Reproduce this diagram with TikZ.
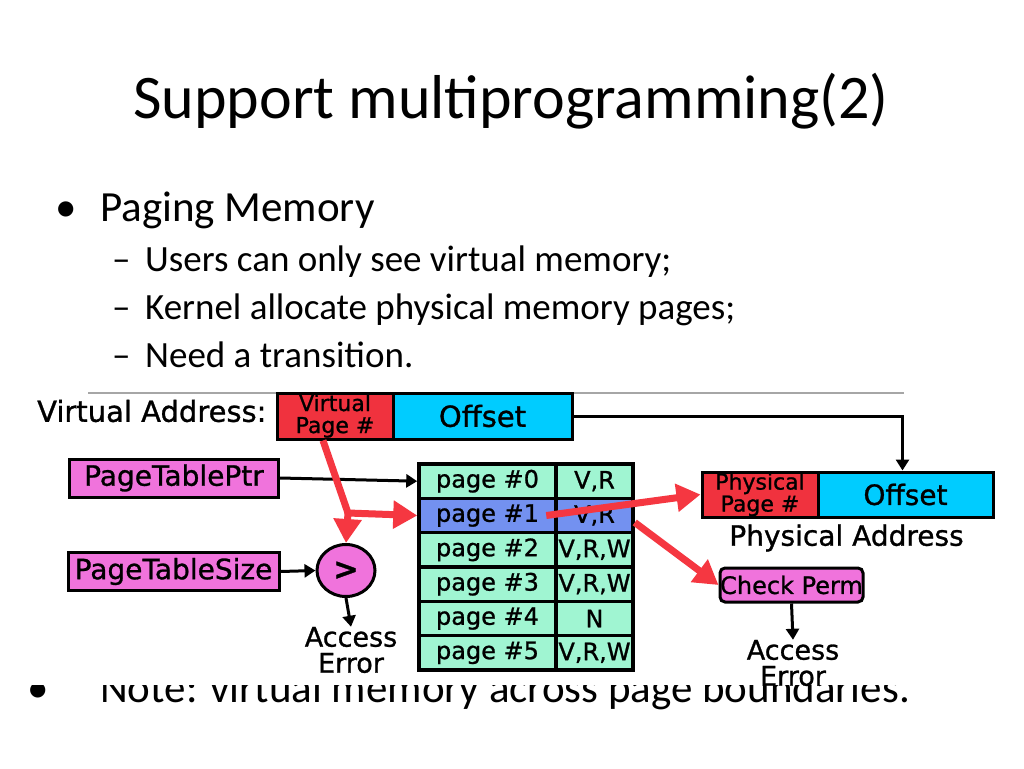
\documentclass[tikz,border=0pt]{standalone}
\usepackage{fontspec}
\setmainfont{Carlito}
\newfontfamily\dfont[FakeBold=1]{DejaVu Sans}
\usetikzlibrary{arrows.meta,shapes.geometric}
\definecolor{vred}{RGB}{240,50,62}
\definecolor{vcyan}{RGB}{0,204,255}
\definecolor{vpink}{RGB}{240,115,220}
\definecolor{tgreen}{RGB}{160,245,210}
\definecolor{tblue}{RGB}{115,145,240}
\definecolor{ared}{RGB}{245,55,65}
\tikzset{
  slidetitle/.style={font=\fontsize{62}{70}\selectfont, inner sep=0pt},
  lvlone/.style={font=\fontsize{43}{50}\selectfont, inner sep=0pt, anchor=base west},
  lvltwo/.style={font=\fontsize{37}{44}\selectfont, inner sep=0pt, anchor=base west},
  dtext/.style={font=\dfont\fontsize{28}{28}\selectfont, inner sep=0pt},
  box/.style={draw=black, line width=3pt, inner sep=0pt, font=\dfont\fontsize{28}{28}\selectfont},
  twoline/.style={box, align=center, font=\dfont\fontsize{22}{22}\selectfont},
  cell/.style={box, fill=tgreen, line width=3.5pt, minimum height=34.33pt, font=\dfont\fontsize{24}{24}\selectfont},
  redarr/.style={draw=ared, line width=7pt, -{Triangle[length=24pt,width=27pt]}},
  redline/.style={draw=ared, line width=7pt},
  blkarr/.style={draw=black, line width=3pt, -{Triangle[length=11pt,width=13pt]}},
}
\begin{document}
\begin{tikzpicture}[x=1pt,y=-1pt]
\useasboundingbox[fill=white] (0,0) rectangle (1024,768);
% slide text
\node[slidetitle, anchor=base] (title) at (511,118) {Support multiprogramming(2)};
\node[lvlone, anchor=base] (b1) at (66,221) {•};
\node[lvlone] (t1) at (100,221) {Paging Memory};
\node[lvltwo] (d1) at (112,271) {–};
\node[lvltwo] (t2) at (145,271) {Users can only see virtual memory;};
\node[lvltwo] (d2) at (112,319) {–};
\node[lvltwo] (t3) at (145,319) {Kernel allocate physical memory pages;};
\node[lvltwo] (d3) at (112,367) {–};
\node[lvltwo] (t4) at (145,367) {Need a transition.};
\node[lvlone, anchor=base] (b2) at (38,702) {•};
\node[lvlone] (t5) at (100,702) {Note: virtual memory across page boundaries.};
% diagram background covering
\fill[white] (28,386) rectangle (1000,685);
\draw[gray!70, line width=2pt] (88,393) -- (904,393);
% virtual address
\node[dtext, anchor=west, font=\dfont\fontsize{29}{29}\selectfont] (valabel) at (37,411) {Virtual Address:};
\node[twoline, fill=vred, minimum width=116pt, minimum height=46pt] (vpn) at (335,416) {Virtual\\Page \#};
\node[box, fill=vcyan, minimum width=179pt, minimum height=46pt, font=\dfont\fontsize{29}{29}\selectfont] (voff) at (482.5,416) {Offset};
% page table
\node[cell, minimum width=137pt] (p0) at (487.5,481.17) {page \#0};
\node[cell, minimum width=77pt] (f0) at (594.5,481.17) {V,R};
\node[cell, fill=tblue, minimum width=137pt] (p1) at (487.5,515.5) {page \#1};
\node[cell, fill=tblue, minimum width=77pt] (f1) at (594.5,515.5) {V,R};
\node[cell, minimum width=137pt] (p2) at (487.5,549.83) {page \#2};
\node[cell, minimum width=77pt] (f2) at (594.5,549.83) {V,R,W};
\node[cell, minimum width=137pt] (p3) at (487.5,584.17) {page \#3};
\node[cell, minimum width=77pt] (f3) at (594.5,584.17) {V,R,W};
\node[cell, minimum width=137pt] (p4) at (487.5,618.5) {page \#4};
\node[cell, minimum width=77pt] (f4) at (594.5,618.5) {N};
\node[cell, minimum width=137pt] (p5) at (487.5,652.83) {page \#5};
\node[cell, minimum width=77pt] (f5) at (594.5,652.83) {V,R,W};
% left side boxes
\node[box, fill=vpink, minimum width=209pt, minimum height=38pt] (ptr) at (174,478) {PageTablePtr};
\node[box, fill=vpink, minimum width=211pt, minimum height=38pt] (size) at (173.5,571.5) {PageTableSize};
\node[box, ellipse, fill=vpink, minimum width=58pt, minimum height=52pt, font=\dfont\bfseries\fontsize{30}{30}\selectfont] (cmp) at (346,570.5) {>};
\node[dtext, align=center, font=\dfont\fontsize{27}{26}\selectfont] (err1) at (351,650) {Access\\Error};
% physical address
\node[twoline, fill=vred, minimum width=116pt, minimum height=45pt] (ppn) at (760,494.5) {Physical\\Page \#};
\node[box, fill=vcyan, minimum width=175pt, minimum height=45pt] (poff) at (905.5,494.5) {Offset};
\node[dtext] (palabel) at (846.5,538) {Physical Address};
\node[box, fill=vpink, rounded corners=5pt, minimum width=143pt, minimum height=34pt, font=\dfont\fontsize{24}{24}\selectfont] (perm) at (791.5,585) {Check Perm};
\node[dtext, align=center, font=\dfont\fontsize{27}{26}\selectfont] (err2) at (793,663) {Access\\Error};
% connectors
\coordinate (split) at (348,513);
\draw[blkarr] (voff.east) -| ([xshift=-3pt]poff.north);
\draw[blkarr] (ptr.east) -- (p0.west);
\draw[blkarr] (size.east) -- (cmp.west);
\draw[blkarr] (cmp.south) -- (err1.north);
\draw[blkarr] (perm.south) -- (err2.north);
\draw[redline] ([xshift=-12pt]vpn.south) -- (split);
\draw[redarr] (split) -- (p1.west);
\draw[redarr] (split) -- (cmp.north);
\draw[redarr] ([xshift=-8pt]f1.west) -- (ppn.west);
\draw[redarr] ([yshift=-7pt]f1.east) -- (perm.west);
\end{tikzpicture}
\end{document}
